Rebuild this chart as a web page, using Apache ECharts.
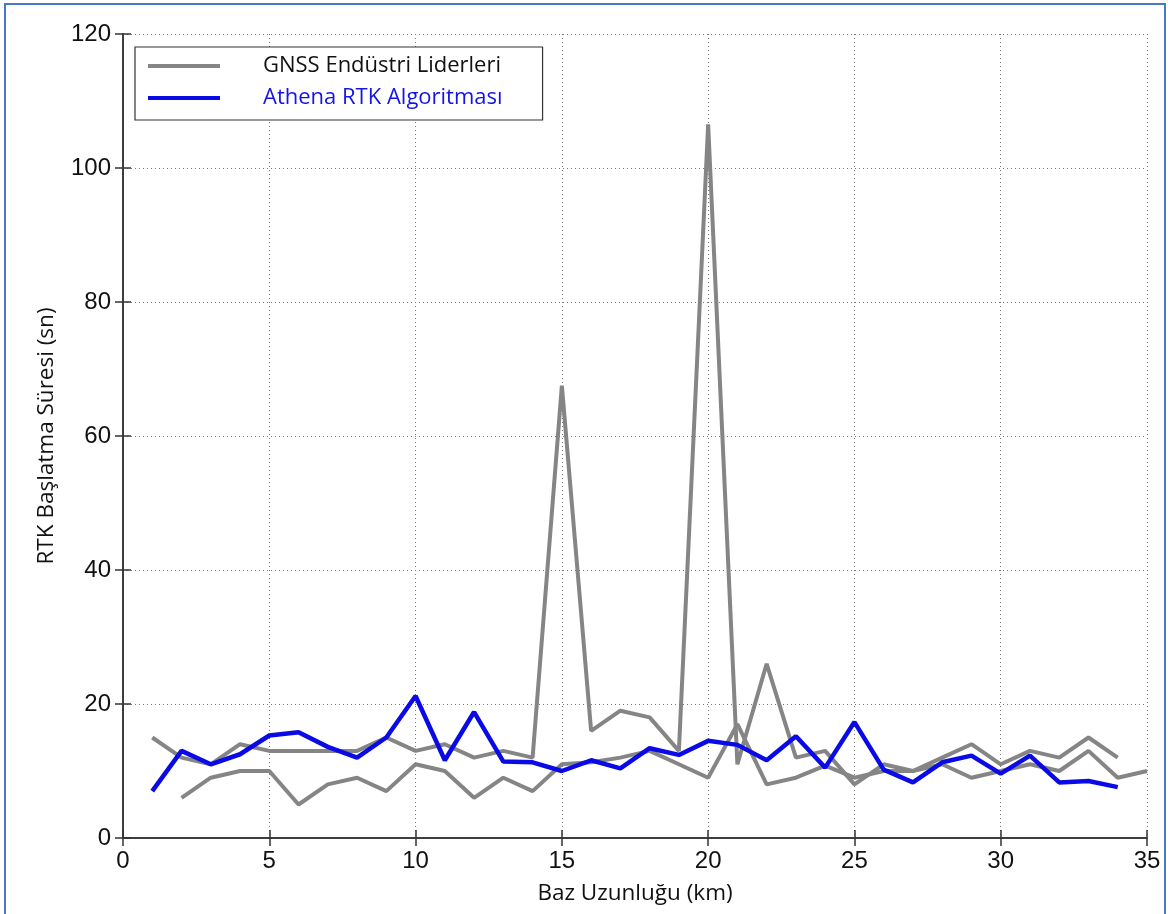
<!DOCTYPE html>
<html>
<head>
<meta charset="utf-8">
<script src="https://cdn.jsdelivr.net/npm/echarts@6/dist/echarts.min.js"></script>
<style>
html,body{margin:0;padding:0;background:#fff;}
#c{width:1168px;height:914px;}
</style>
</head>
<body>
<div id="c"></div>
<script>
// Base length (km)
const km = [1,2,3,4,5,6,7,8,9,10,11,12,13,14,15,16,17,18,19,20,21,22,23,24,25,26,27,28,29,30,31,32,33,34,35];
// GNSS industry leaders - first receiver (1..34 km)
const gnssA = [15,12,11,14,13,13,13,13,15,13,14,12,13,12,67.5,16,19,18,13,106.5,11,26,12,13,8,11,10,12,14,11,13,12,15,12,null];
// GNSS industry leaders - second receiver (2..35 km)
const gnssB = [null,6,9,10,10,5,8,9,7,11,10,6,9,7,11,11.3,12,13,11,9,17,8,9,10.8,9,10,10,11,9,10,11,10,13,9,10];
// Athena RTK algorithm (1..34 km)
const athena = [7,13,11,12.5,15.3,15.8,13.6,12,15,21.2,11.6,18.8,11.4,11.3,10,11.6,10.4,13.4,12.4,14.5,13.9,11.6,15.2,10.5,17.3,10.2,8.3,11.3,12.3,9.6,12.3,8.3,8.5,7.6,null];
const xTicks = [0,5,10,15,20,25,30,35];
const yTicks = [0,20,40,60,80,100,120];

const nameGnss = 'GNSS Endüstri Liderleri';
const nameAthena = 'Athena RTK Algoritması';

function pairs(vals){
  const out = [];
  km.forEach((k,i)=>{ if(vals[i]!==null) out.push([k, vals[i]]); });
  return out;
}

const chart = echarts.init(document.getElementById('c'));
const gridLine = {show:true, lineStyle:{color:'#777', type:[1,3], width:1}};
const frameLine = {show:true, lineStyle:{color:'#333', width:1.5}};
const tick = {show:true, inside:true, length:8, lineStyle:{color:'#333', width:1.5}};
const labelFont = {fontFamily:'Liberation Sans', fontSize:24, color:'#111'};

chart.setOption({
  backgroundColor:'#fff',
  animation:false,
  graphic:[{type:'rect', shape:{x:5, y:4, width:1160, height:930}, style:{fill:'none', stroke:'#4a78c8', lineWidth:2}, silent:true}],
  grid:{left:123, right:21, top:34, bottom:76},
  legend:{
    data:[nameGnss, nameAthena],
    orient:'vertical', left:135, top:47,
    padding:[7,40,10,13],
    itemWidth:72, itemHeight:4, itemGap:8,
    icon:'rect',
    borderColor:'#333', borderWidth:1.2, borderRadius:0,
    backgroundColor:'#fff',
    formatter: n => n===nameGnss ? '{g|'+n+'}' : '{b|'+n+'}',
    textStyle:{fontFamily:'Open Sans', fontSize:22, lineHeight:24,
      rich:{ g:{color:'#111', fontFamily:'Open Sans', fontSize:22, lineHeight:24, padding:[0,0,0,38]},
             b:{color:'#1414e6', fontFamily:'Open Sans', fontSize:22, lineHeight:24, padding:[0,0,0,38]} } }
  },
  xAxis:[{
    type:'value', min:0, max:35, interval:5, position:'bottom',
    name:'Baz Uzunluğu (km)', nameLocation:'middle', nameGap:44,
    nameTextStyle:{fontFamily:'Open Sans', fontSize:22.5, color:'#111'},
    axisLine:frameLine, axisTick:tick, splitLine:gridLine,
    axisLabel:Object.assign({margin:11, formatter:v=>xTicks.includes(v)?String(v):''}, labelFont)
  },{
    type:'value', min:0, max:35, interval:5, position:'top',
    axisLine:frameLine, axisTick:tick, splitLine:{show:false}, axisLabel:{show:false}
  }],
  yAxis:[{
    type:'value', min:0, max:120, interval:20, position:'left',
    name:'RTK Başlatma Süresi (sn)', nameLocation:'middle', nameGap:65, nameRotate:90,
    nameTextStyle:{fontFamily:'Open Sans', fontSize:22.5, color:'#111'},
    axisLine:frameLine, axisTick:tick, splitLine:gridLine,
    axisLabel:Object.assign({margin:12, formatter:v=>yTicks.includes(v)?String(v):''}, labelFont)
  },{
    type:'value', min:0, max:120, interval:20, position:'right',
    axisLine:frameLine, axisTick:tick, splitLine:{show:false}, axisLabel:{show:false}
  }],
  series:[
    {name:nameGnss, type:'line', data:pairs(gnssA), symbol:'none', itemStyle:{color:'#858585'}, lineStyle:{color:'#858585', width:4}, z:2},
    {name:nameGnss, type:'line', data:pairs(gnssB), symbol:'none', itemStyle:{color:'#858585'}, lineStyle:{color:'#858585', width:4}, z:2},
    {name:nameAthena, type:'line', data:pairs(athena), symbol:'none', itemStyle:{color:'#0a0ae6'}, lineStyle:{color:'#0a0ae6', width:4.5}, z:3}
  ]
});
</script>
</body>
</html>
